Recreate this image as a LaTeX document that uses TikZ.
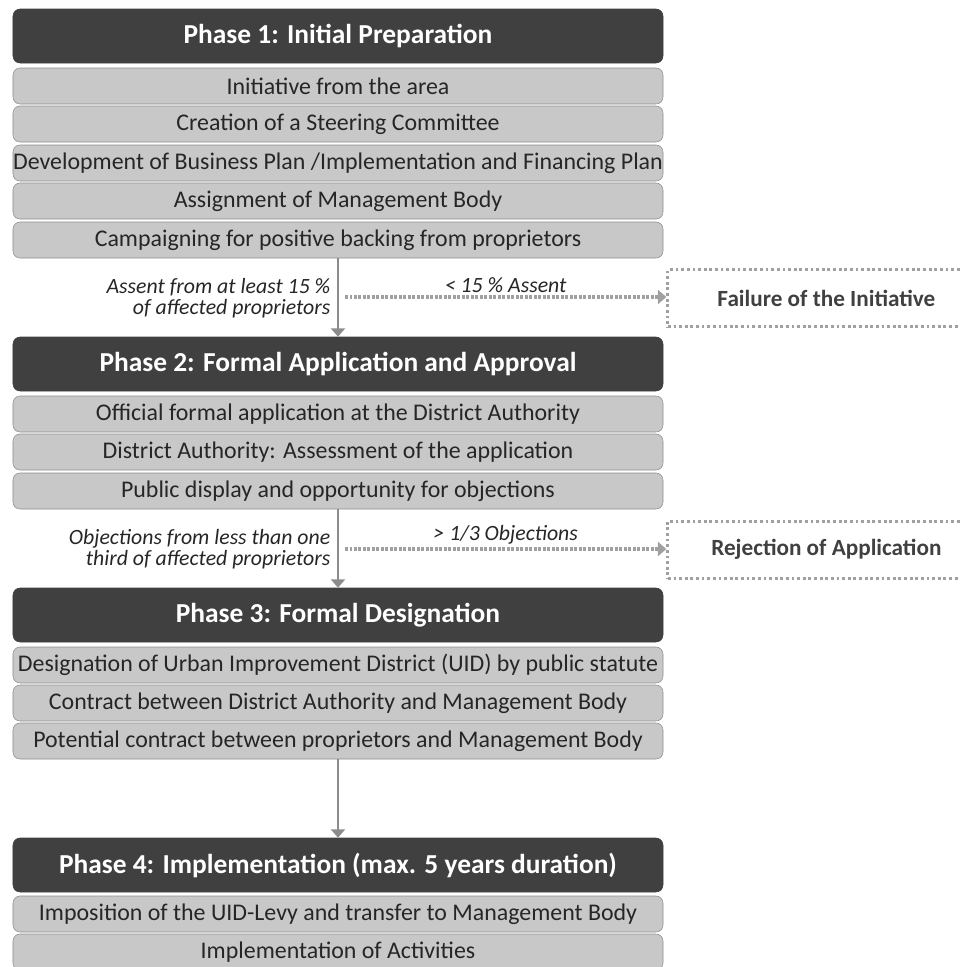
\documentclass[tikz,border=0pt]{standalone}
\usepackage{fontspec}
\setmainfont{Carlito}
\usepackage{xcolor}
\definecolor{phasebg}{HTML}{404040}
\definecolor{stepbg}{HTML}{C8C8C8}
\definecolor{stepline}{HTML}{8E8E8E}
\definecolor{arrowgray}{HTML}{8C8C8C}
\definecolor{dotgray}{HTML}{A0A0A0}
\definecolor{ink}{HTML}{262626}
\usepackage{tikz}
\usetikzlibrary{arrows.meta}

\begin{document}
\begin{tikzpicture}[
  phase/.style={draw=phasebg, fill=phasebg, text=white, rounded corners=5pt,
                minimum width=16.25cm, minimum height=1.35cm, inner sep=2pt,
                font=\bfseries\fontsize{19.5}{22}\selectfont},
  task/.style={draw=stepline, fill=stepbg, text=ink, rounded corners=5pt,
               minimum width=16.25cm, minimum height=0.9cm, inner sep=0pt,
               font=\fontsize{17}{19}\selectfont},
  cond/.style={text=ink, align=right, inner sep=1pt,
               font=\itshape\fontsize{15.5}{15}\selectfont},
  result/.style={draw=dotgray, line width=2.2pt, dash pattern=on 2pt off 2pt,
                 minimum width=7.925cm, minimum height=1.425cm, text=phasebg,
                 font=\bfseries\fontsize{16.5}{19}\selectfont},
  link/.style={-{Triangle[width=10pt,length=6pt]}, arrowgray, line width=2pt},
  fail/.style={-{Triangle[width=10pt,length=6pt]}, dotgray, line width=2.2pt,
               dash pattern=on 2pt off 1.2pt}
]
  \clip (0,0) rectangle (24,-24.175);

  % phase 1
  \node[phase] (p1) at (8.45,-0.9) {Phase 1: Initial Preparation};
  \node[task] (p1a) at (8.45,-2.15)  {Initiative from the area};
  \node[task] (p1b) at (8.45,-3.1)   {Creation of a Steering Committee};
  \node[task] (p1c) at (8.45,-4.075) {Development of Business Plan /Implementation and Financing Plan};
  \node[task] (p1d) at (8.45,-5.025) {Assignment of Management Body};
  \node[task] (p1e) at (8.45,-6.0)   {Campaigning for positive backing from proprietors};

  % phase 2
  \node[phase] (p2) at (8.45,-9.1) {Phase 2: Formal Application and Approval};
  \node[task] (p2a) at (8.45,-10.35)  {Official formal application at the District Authority};
  \node[task] (p2b) at (8.45,-11.3)   {District Authority: Assessment of the application};
  \node[task] (p2c) at (8.45,-12.275) {Public display and opportunity for objections};

  % phase 3
  \node[phase] (p3) at (8.45,-15.375) {Phase 3: Formal Designation};
  \node[task] (p3a) at (8.45,-16.625) {Designation of Urban Improvement District (UID) by public statute};
  \node[task] (p3b) at (8.45,-17.575) {Contract between District Authority and Management Body};
  \node[task] (p3c) at (8.45,-18.525) {Potential contract between proprietors and Management Body};

  % phase 4
  \node[phase] (p4) at (8.45,-21.625) {Phase 4: Implementation (max. 5 years duration)};
  \node[task] (p4a) at (8.45,-22.85) {Imposition of the UID-Levy and transfer to Management Body};
  \node[task] (p4b) at (8.45,-23.8)  {Implementation of Activities};

  \draw[link] (p1e.south) -- (p2.north);
  \draw[link] (p2c.south) -- (p3.north);
  \draw[link] (p3c.south) -- (p4.north);

  % exits
  \node[cond, anchor=east] (c1) at (8.3,-7.45) {Assent from at least 15 \%\\of affected proprietors};
  \node[result] (r1) at (20.66,-7.46) {Failure of the Initiative};
  \coordinate (s1) at (8.625,-7.425);
  \draw[fail] (s1) -- (r1.west |- s1) node[cond, midway, above=1pt, align=center] {< 15 \% Assent};

  \node[cond, anchor=east] (c2) at (8.3,-13.73) {Objections from less than one\\third of affected proprietors};
  \node[result] (r2) at (20.66,-13.74) {Rejection of Application};
  \coordinate (s2) at (8.625,-13.725);
  \draw[fail] (s2) -- (r2.west |- s2) node[cond, midway, above=1pt, align=center] {> 1/3 Objections};
\end{tikzpicture}
\end{document}
